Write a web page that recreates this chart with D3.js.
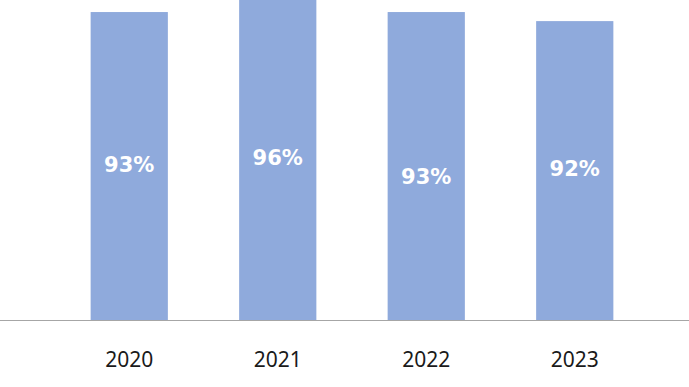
<!DOCTYPE html>
<html>
<head>
<meta charset="utf-8">
<script src="https://cdn.jsdelivr.net/npm/d3@7/dist/d3.min.js"></script>
<style>
html,body{margin:0;padding:0;background:#fff;overflow:hidden;}
</style>
</head>
<body>
<svg id="chart" width="689" height="387"></svg>
<script>
// Data
const categories = ["2020", "2021", "2022", "2023"];
const values = [93, 96, 93, 92];
const valueLabels = ["93%", "96%", "93%", "92%"];
// where each data label sits, in value units
const labelAt = [76.2, 76.9, 74.8, 75.7];
const yDomain = [59, 94.33];

const W = 689, H = 387;
const svg = d3.select("#chart");

const x = d3.scaleBand()
  .domain(categories)
  .range([55, 649])
  .paddingInner(0.48)
  .paddingOuter(0.24);

const y = d3.scaleLinear().domain(yDomain).range([320, 0]);

const data = categories.map((c, i) => ({c, v: values[i], lab: valueLabels[i], at: labelAt[i]}));

svg.append("g").selectAll("rect").data(data).join("rect")
  .attr("x", d => x(d.c))
  .attr("width", x.bandwidth())
  .attr("y", d => y(d.v))
  .attr("height", d => y(yDomain[0]) - y(d.v))
  .attr("fill", "#8FAADC");

// axis line
svg.append("line")
  .attr("x1", 0).attr("x2", W)
  .attr("y1", 320.5).attr("y2", 320.5)
  .attr("stroke", "#A6A6A6").attr("stroke-width", 1);

// category labels
const xAxis = d3.axisBottom(x).tickSize(0).tickPadding(0);
const gx = svg.append("g").attr("transform", "translate(0,320)").call(xAxis);
gx.select(".domain").remove();
gx.selectAll("text")
  .attr("y", 47)
  .attr("dy", null)
  .attr("font-family", "'Noto Sans', 'Open Sans', sans-serif")
  .attr("font-size", 21)
  .attr("fill", "#1a1a1a");

// value labels
svg.append("g").selectAll("text").data(data).join("text")
  .attr("x", d => x(d.c) + x.bandwidth() / 2)
  .attr("y", d => y(d.at))
  .attr("dy", "0.36em")
  .attr("text-anchor", "middle")
  .attr("font-family", "'DejaVu Sans', Verdana, sans-serif")
  .attr("font-weight", "bold")
  .attr("font-size", 21)
  .attr("fill", "#ffffff")
  .text(d => d.lab);
</script>
</body>
</html>
